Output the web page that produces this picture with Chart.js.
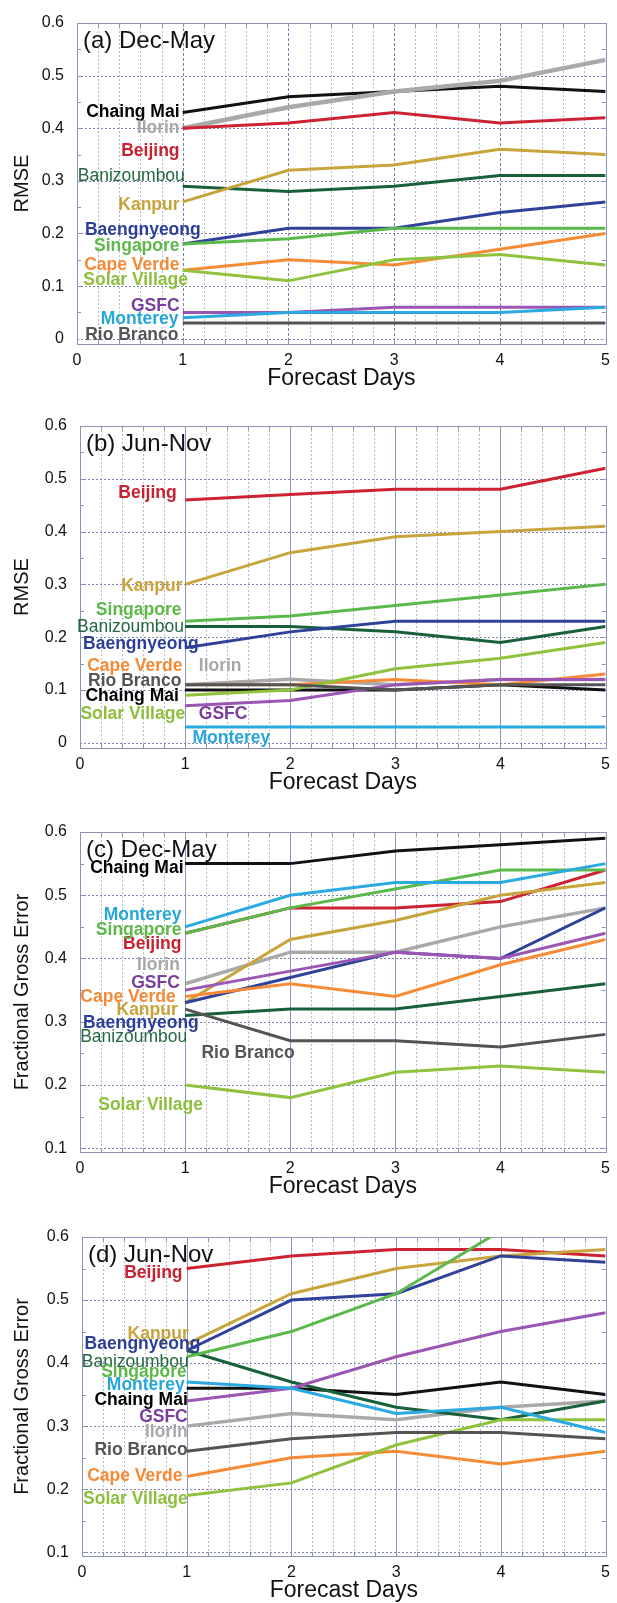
<!DOCTYPE html>
<html>
<head>
<meta charset="utf-8">
<script src="https://cdn.jsdelivr.net/npm/chart.js@4.4.1/dist/chart.umd.min.js"></script>
<style>
    body { margin: 0; background: #fff; }
    #wrap { position: relative; width: 617px; height: 1603px; }
    canvas { position: absolute; left: 0; }
</style>
</head>
<body>
<div id="wrap">
    <canvas id="chartA" width="617" height="400" style="top:0px"></canvas>
    <canvas id="chartB" width="617" height="403" style="top:400px"></canvas>
    <canvas id="chartC" width="617" height="402" style="top:805px"></canvas>
    <canvas id="chartD" width="617" height="396" style="top:1207px"></canvas>
</div>
<script>
const days = [1, 2, 3, 4, 5];
const xTicks = [0, 1, 2, 3, 4, 5];
const rmseTicks = [0, 0.1, 0.2, 0.3, 0.4, 0.5, 0.6];
const fgeTicks = [0.1, 0.2, 0.3, 0.4, 0.5, 0.6];

const stations = ["Chaing Mai", "Ilorin", "Beijing", "Banizoumbou", "Kanpur", "Baengnyeong",
    "Singapore", "Cape Verde", "Solar Village", "GSFC", "Monterey", "Rio Branco"];
const lineColors = ["#111111", "#a9a9a9", "#cc2232", "#17603a", "#c8a43c", "#2f4199",
    "#5bb94b", "#f68b36", "#8fc23e", "#9a55b5", "#2aaae0", "#545454"];
const labelColors = ["#000000", "#a8a8a8", "#c8202e", "#23683e", "#c9a23a", "#2c3f98",
    "#5db94a", "#f48a35", "#8dbf3c", "#7a3e9e", "#27a6dc", "#555555"];

// one row per station, same order as stations[]
const rmseDecMay = [
    [0.43, 0.46, 0.47, 0.48, 0.47],
    [0.40, 0.44, 0.47, 0.49, 0.53],
    [0.40, 0.41, 0.43, 0.41, 0.42],
    [0.29, 0.28, 0.29, 0.31, 0.31],
    [0.26, 0.32, 0.33, 0.36, 0.35],
    [0.18, 0.21, 0.21, 0.24, 0.26],
    [0.18, 0.19, 0.21, 0.21, 0.21],
    [0.13, 0.15, 0.14, 0.17, 0.20],
    [0.13, 0.11, 0.15, 0.16, 0.14],
    [0.05, 0.05, 0.06, 0.06, 0.06],
    [0.04, 0.05, 0.05, 0.05, 0.06],
    [0.03, 0.03, 0.03, 0.03, 0.03]
];
const rmseJunNov = [
    [0.10, 0.10, 0.10, 0.11, 0.10],
    [0.11, 0.12, 0.11, 0.12, 0.12],
    [0.46, 0.47, 0.48, 0.48, 0.52],
    [0.22, 0.22, 0.21, 0.19, 0.22],
    [0.30, 0.36, 0.39, 0.40, 0.41],
    [0.18, 0.21, 0.23, 0.23, 0.23],
    [0.23, 0.24, 0.26, 0.28, 0.30],
    [0.11, 0.11, 0.12, 0.11, 0.13],
    [0.09, 0.10, 0.14, 0.16, 0.19],
    [0.07, 0.08, 0.11, 0.12, 0.12],
    [0.03, 0.03, 0.03, 0.03, 0.03],
    [0.11, 0.11, 0.10, 0.11, 0.11]
];
const fgeDecMay = [
    [0.55, 0.55, 0.57, 0.58, 0.59],
    [0.36, 0.41, 0.41, 0.45, 0.48],
    [0.44, 0.48, 0.48, 0.49, 0.54],
    [0.31, 0.32, 0.32, 0.34, 0.36],
    [0.33, 0.43, 0.46, 0.50, 0.52],
    [0.33, 0.37, 0.41, 0.40, 0.48],
    [0.44, 0.48, 0.51, 0.54, 0.54],
    [0.34, 0.36, 0.34, 0.39, 0.43],
    [0.20, 0.18, 0.22, 0.23, 0.22],
    [0.35, 0.38, 0.41, 0.40, 0.44],
    [0.45, 0.50, 0.52, 0.52, 0.55],
    [0.32, 0.27, 0.27, 0.26, 0.28]
];
const fgeJunNov = [
    [0.36, 0.36, 0.35, 0.37, 0.35],
    [0.30, 0.32, 0.31, 0.33, 0.34],
    [0.55, 0.57, 0.58, 0.58, 0.57],
    [0.42, 0.37, 0.33, 0.31, 0.34],
    [0.43, 0.51, 0.55, 0.57, 0.58],
    [0.42, 0.50, 0.51, 0.57, 0.56],
    [0.41, 0.45, 0.51, 0.61, 0.66],
    [0.22, 0.25, 0.26, 0.24, 0.26],
    [0.19, 0.21, 0.27, 0.31, 0.31],
    [0.34, 0.36, 0.41, 0.45, 0.48],
    [0.37, 0.36, 0.32, 0.33, 0.29],
    [0.26, 0.28, 0.29, 0.29, 0.28]
];

// where the station names go (day, value); right edge unless listed in *LeftNames
const aLabelX = [0.97, 0.97, 0.97, 1.02, 0.97, 1.17, 0.97, 0.97, 1.05, 0.97, 0.96, 0.96];
const aLabelY = [0.43, 0.40, 0.357, 0.308, 0.254, 0.207, 0.175, 0.139, 0.111, 0.061, 0.037, 0.006];
const bLabelX = [0.94, 1.13, 0.92, 0.99, 0.975, 1.13, 0.965, 0.975, 1.0, 1.13, 1.07, 0.965];
const bLabelY = [0.088, 0.145, 0.472, 0.218, 0.297, 0.187, 0.251, 0.145, 0.055, 0.055, 0.008, 0.116];
const bLeftNames = ["Ilorin", "GSFC", "Monterey"];
const cLabelX = [0.985, 0.95, 0.965, 1.02, 0.93, 1.13, 0.965, 0.91, 1.17, 0.95, 0.965, 1.155];
const cLabelY = [0.543, 0.39, 0.423, 0.276, 0.319, 0.298, 0.445, 0.339, 0.168, 0.361, 0.469, 0.25];
const cLeftNames = ["Rio Branco"];
const dLabelX = [1.01, 1.01, 0.96, 1.02, 1.02, 1.13, 1.0, 0.96, 1.01, 1.01, 0.98, 1.01];
const dLabelY = [0.341, 0.291, 0.542, 0.402, 0.446, 0.43, 0.386, 0.22, 0.184, 0.315, 0.365, 0.262];

const fontFam = '"Liberation Sans", Arial, Helvetica, sans-serif';
const frameColor = "#8c92b8";

function drawGrid(chart, panel) {
    const { ctx, chartArea: a, scales: { x, y } } = chart;
    ctx.save();
    ctx.lineWidth = 1;

    // dotted lines every 0.2 day
    ctx.strokeStyle = "#b9bbc8";
    ctx.setLineDash([2, 2]);
    for (let k = 1; k < 25; k++) {
        if (k % 5 === 0) continue;
        const px = Math.round(x.getPixelForValue(k / 5)) + 0.5;
        ctx.beginPath(); ctx.moveTo(px, a.top); ctx.lineTo(px, a.bottom); ctx.stroke();
    }

    // whole days
    if (panel.solidDays) {
        ctx.setLineDash([]);
        ctx.strokeStyle = "#8d94c4";
    } else {
        ctx.setLineDash([3, 2]);
        ctx.strokeStyle = "#7880b0";
    }
    for (let d = 1; d < 5; d++) {
        const px = Math.round(x.getPixelForValue(d)) + 0.5;
        ctx.beginPath(); ctx.moveTo(px, a.top); ctx.lineTo(px, a.bottom); ctx.stroke();
    }

    // horizontal dotted lines at the labelled values
    ctx.setLineDash([2, 2]);
    ctx.strokeStyle = "#7f86b2";
    panel.yTicks.forEach(v => {
        if (v >= 0.6) return;
        const py = Math.round(y.getPixelForValue(v)) + 0.5;
        ctx.beginPath(); ctx.moveTo(a.left, py); ctx.lineTo(a.right, py); ctx.stroke();
    });

    // small inward ticks on all four sides
    ctx.setLineDash([]);
    ctx.strokeStyle = frameColor;
    for (let k = 1; k < 25; k++) {
        const px = Math.round(x.getPixelForValue(k / 5)) + 0.5;
        ctx.beginPath();
        ctx.moveTo(px, a.top); ctx.lineTo(px, a.top + 4);
        ctx.moveTo(px, a.bottom); ctx.lineTo(px, a.bottom - 4);
        ctx.stroke();
    }
    for (let k = 1; k < 12; k++) {
        const v = k * 0.05;
        if (v <= y.min) continue;
        const py = Math.round(y.getPixelForValue(v)) + 0.5;
        ctx.beginPath();
        ctx.moveTo(a.left, py); ctx.lineTo(a.left + 4, py);
        ctx.moveTo(a.right, py); ctx.lineTo(a.right - 4, py);
        ctx.stroke();
    }

    ctx.strokeRect(Math.round(a.left) + 0.5, Math.round(a.top) + 0.5,
        Math.round(a.right - a.left), Math.round(a.bottom - a.top));
    ctx.restore();
}

function drawNames(chart, panel) {
    const { ctx, chartArea: a, scales: { x, y } } = chart;
    ctx.save();
    ctx.fillStyle = "#111";
    ctx.font = "24px " + fontFam;
    ctx.textAlign = "left";
    ctx.textBaseline = "middle";
    ctx.fillText(panel.title, a.left + 6, a.top + 18);

    stations.forEach((name, i) => {
        const left = (panel.leftNames || []).includes(name);
        ctx.font = (name === "Banizoumbou" ? "" : "bold ") + "17.5px " + fontFam;
        ctx.fillStyle = labelColors[i];
        ctx.textAlign = left ? "left" : "right";
        ctx.fillText(name, x.getPixelForValue(panel.labelX[i]), y.getPixelForValue(panel.labelY[i]));
    });
    ctx.restore();
}

function makeChart(id, panel) {
    const datasets = stations.map((name, i) => ({
        label: name,
        data: panel.values[i].map((v, j) => ({ x: days[j], y: v })),
        borderColor: lineColors[i],
        borderWidth: name === "Ilorin" ? panel.grayWidth : 3,
        pointRadius: 0,
        tension: 0,
        order: -i
    }));

    return new Chart(document.getElementById(id), {
        type: "line",
        data: { datasets },
        options: {
            responsive: false,
            animation: false,
            layout: { padding: { top: panel.padTop, right: panel.padRight, bottom: panel.padBottom, left: 0 } },
            plugins: { legend: { display: false }, tooltip: { enabled: false } },
            scales: {
                x: {
                    type: "linear",
                    min: 0,
                    max: 5,
                    afterBuildTicks: s => { s.ticks = xTicks.map(v => ({ value: v })); },
                    afterFit: s => { s.height = 47; },
                    grid: { display: false, drawTicks: false },
                    border: { display: false },
                    ticks: {
                        autoSkip: false,
                        maxRotation: 0,
                        padding: 7,
                        color: "#111",
                        font: { family: fontFam, size: 16 },
                        callback: v => String(v)
                    },
                    title: {
                        display: true,
                        text: "Forecast Days",
                        color: "#111",
                        font: { family: fontFam, size: 23, lineHeight: 1 },
                        padding: { top: 0, bottom: 0.5 }
                    }
                },
                y: {
                    type: "linear",
                    min: panel.yMin,
                    max: 0.6,
                    afterBuildTicks: s => { s.ticks = panel.yTicks.map(v => ({ value: v })); },
                    afterFit: s => { s.width = panel.left; },
                    grid: { display: false, drawTicks: false },
                    border: { display: false },
                    ticks: {
                        padding: 13,
                        color: "#111",
                        font: { family: fontFam, size: 16 },
                        callback: v => (v === 0 ? "0" : v.toFixed(1))
                    },
                    title: {
                        display: true,
                        text: panel.yTitle,
                        color: "#111",
                        font: { family: fontFam, size: 20 },
                        padding: { top: 10, bottom: 0 }
                    }
                }
            }
        },
        plugins: [{
            id: "panelDecor",
            beforeDatasetsDraw: chart => drawGrid(chart, panel),
            afterDatasetsDraw: chart => drawNames(chart, panel)
        }]
    });
}

window.onload = function () {
    makeChart("chartA", {
        title: "(a) Dec-May", yTitle: "RMSE", values: rmseDecMay,
        labelX: aLabelX, labelY: aLabelY,
        yMin: -0.01, yTicks: rmseTicks, solidDays: false, grayWidth: 4.5,
        left: 77, padTop: 23, padRight: 11, padBottom: 9
    });
    makeChart("chartB", {
        title: "(b) Jun-Nov", yTitle: "RMSE", values: rmseJunNov,
        labelX: bLabelX, labelY: bLabelY, leftNames: bLeftNames,
        yMin: -0.01, yTicks: rmseTicks, solidDays: true, grayWidth: 3.5,
        left: 80, padTop: 26, padRight: 9, padBottom: 8
    });
    makeChart("chartC", {
        title: "(c) Dec-May", yTitle: "Fractional Gross Error", values: fgeDecMay,
        labelX: cLabelX, labelY: cLabelY, leftNames: cLeftNames,
        yMin: 0.094, yTicks: fgeTicks, solidDays: true, grayWidth: 3.5,
        left: 80, padTop: 27, padRight: 9, padBottom: 8
    });
    makeChart("chartD", {
        title: "(d) Jun-Nov", yTitle: "Fractional Gross Error", values: fgeJunNov,
        labelX: dLabelX, labelY: dLabelY,
        yMin: 0.094, yTicks: fgeTicks, solidDays: true, grayWidth: 3.5,
        left: 82, padTop: 30, padRight: 9, padBottom: 0
    });
};
</script>
</body>
</html>
